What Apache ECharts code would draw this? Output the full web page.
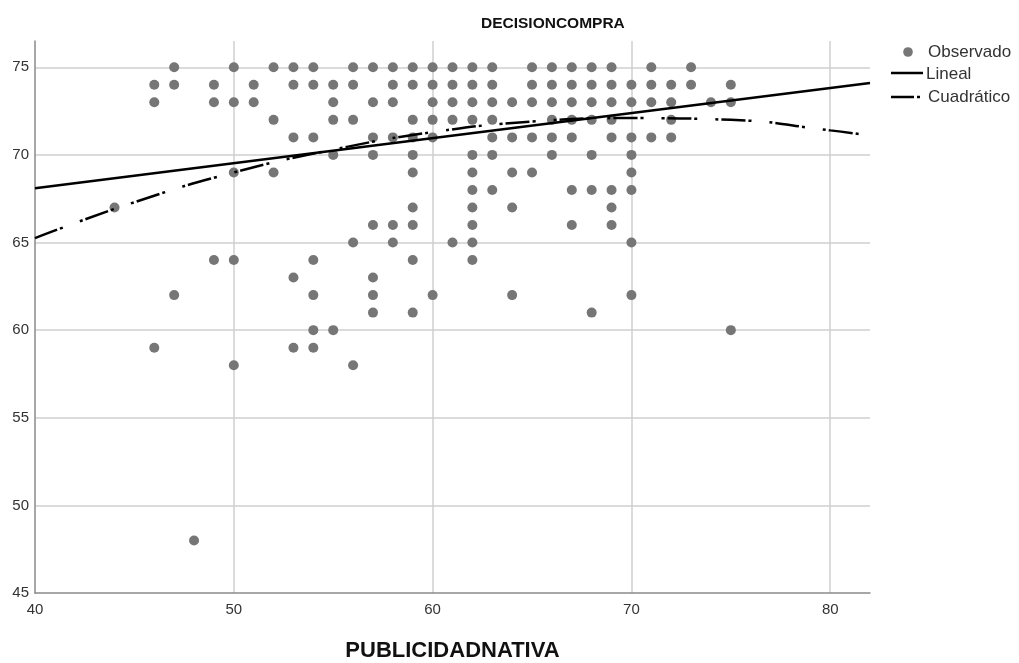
<!DOCTYPE html>
<html>
<head>
<meta charset="utf-8">
<script src="https://cdn.jsdelivr.net/npm/echarts@6/dist/echarts.min.js"></script>
<style>html,body{margin:0;padding:0;background:#fff;overflow:hidden}#c{width:1019px;height:663px}</style>
</head>
<body>
<div id="c"></div>
<script>
const obsX = [
 44,
 46,46,46,
 47,47,47,
 48,
 49,49,49,
 50,50,50,50,50,
 51,51,
 52,52,52,
 53,53,53,53,53,
 54,54,54,54,54,54,54,
 55,55,55,55,55,
 56,56,56,56,56,
 57,57,57,57,57,57,57,57,
 58,58,58,58,58,58,
 59,59,59,59,59,59,59,59,59,59,
 60,60,60,60,60,60,
 61,61,61,61,61,
 62,62,62,62,62,62,62,62,62,62,62,
 63,63,63,63,63,63,63,
 64,64,64,64,64,
 65,65,65,65,65,
 66,66,66,66,66,66,
 67,67,67,67,67,67,67,
 68,68,68,68,68,68,68,
 69,69,69,69,69,69,69,69,
 70,70,70,70,70,70,70,70,
 71,71,71,71,
 72,72,72,72,
 73,73,
 74,
 75,75,75
];
const obsY = [
 67,
 74,73,59,
 75,74,62,
 48,
 74,73,64,
 75,73,69,64,58,
 74,73,
 75,72,69,
 75,74,71,63,59,
 75,74,71,64,62,60,59,
 74,73,72,70,60,
 75,74,72,65,58,
 75,73,71,70,66,63,62,61,
 75,74,73,71,66,65,
 75,74,72,71,70,69,67,66,64,61,
 75,74,73,72,71,62,
 75,74,73,72,65,
 75,74,73,72,70,69,68,67,66,65,64,
 75,74,73,72,71,70,68,
 73,71,69,67,62,
 75,74,73,71,69,
 75,74,73,72,71,70,
 75,74,73,72,71,68,66,
 75,74,73,72,70,68,61,
 75,74,73,72,71,68,67,66,
 74,73,71,70,69,68,65,62,
 75,74,73,71,
 74,73,72,71,
 75,74,
 73,
 74,73,60
];
// Fitted curves, values
const linX = [40, 82];
const linY = [68.1, 74.1];
const quadX = [40, 45, 50, 55, 60, 65, 70, 75, 80, 82];
const quadY = [65.25, 67.3, 69.0, 70.3, 71.3, 71.9, 72.1, 72.0, 71.4, 71.1];
// Axis ticks
const xTicks = [40, 50, 60, 70, 80];
const yTicks = [45, 50, 55, 60, 65, 70, 75];
// Legend labels
const legendNames = ['Observado', 'Lineal', 'Cuadrático'];

const zip = (a, b) => a.map((v, i) => [v, b[i]]);
const FONT = "'Liberation Sans', Arial, sans-serif";
const DOT = '#767676';
const QUAD_DASH = [24, 3, 3, 18, 3, 3];

const chart = echarts.init(document.getElementById('c'), null, {renderer: 'canvas', width: 1019, height: 663});
chart.setOption({
  animation: false,
  backgroundColor: '#fff',
  title: {
    text: 'DECISIONCOMPRA',
    left: 476, top: 11,
    textStyle: {fontFamily: FONT, fontSize: 15.5, fontWeight: 'bold', color: '#111'}
  },
  grid: {left: 35, right: 149, top: 41, bottom: 70, containLabel: false, outerBoundsMode: 'none'},
  xAxis: {
    type: 'value', min: 40, max: 82, interval: 10,
    name: 'PUBLICIDADNATIVA', nameLocation: 'middle', nameGap: 47,
    nameTextStyle: {fontFamily: FONT, fontSize: 22, fontWeight: 'bold', color: '#111'},
    axisLine: {show: true, lineStyle: {color: '#8a8a8a', width: 1.5}},
    axisTick: {show: false},
    axisLabel: {
      fontFamily: FONT, fontSize: 15, color: '#333', margin: 9,
      showMaxLabel: false,
      formatter: v => xTicks.includes(v) ? String(v) : ''
    },
    splitLine: {show: true, showMinLine: false, showMaxLine: false, lineStyle: {color: '#cfcfcf', width: 1.5}}
  },
  yAxis: {
    type: 'value', min: 45, max: 76.5, interval: 5,
    axisLine: {show: true, lineStyle: {color: '#8a8a8a', width: 1.5}},
    axisTick: {show: false},
    axisLabel: {
      fontFamily: FONT, fontSize: 15, color: '#333', margin: 6,
      showMaxLabel: false,
      formatter: v => yTicks.includes(v) ? String(v) : ''
    },
    splitLine: {show: true, showMinLine: false, showMaxLine: false, lineStyle: {color: '#cfcfcf', width: 1.5}}
  },
  graphic: [
    {type: 'circle', shape: {cx: 908, cy: 52, r: 4.8}, style: {fill: DOT}},
    {type: 'text', left: 928, top: 44, style: {text: legendNames[0], font: '17px ' + FONT, fill: '#333'}},
    {type: 'line', shape: {x1: 891, y1: 73, x2: 923, y2: 73}, style: {stroke: '#000', lineWidth: 2.5}},
    {type: 'text', left: 926, top: 66, style: {text: legendNames[1], font: '17px ' + FONT, fill: '#333'}},
    {type: 'line', shape: {x1: 891, y1: 97, x2: 914, y2: 97}, style: {stroke: '#000', lineWidth: 2.5}},
    {type: 'line', shape: {x1: 917, y1: 97, x2: 920, y2: 97}, style: {stroke: '#000', lineWidth: 2.5}},
    {type: 'text', left: 928, top: 89, style: {text: legendNames[2], font: '17px ' + FONT, fill: '#333'}}
  ],
  series: [
    {
      name: 'Observado', type: 'scatter',
      data: zip(obsX, obsY),
      symbol: 'circle', symbolSize: 10,
      itemStyle: {color: DOT, opacity: 1},
      z: 2
    },
    {
      name: 'Lineal', type: 'line',
      data: zip(linX, linY),
      symbol: 'none', clip: true,
      lineStyle: {color: '#000', width: 2.5},
      z: 3
    },
    {
      name: 'Cuadrático', type: 'line',
      data: zip(quadX, quadY),
      symbol: 'none', smooth: true, clip: true,
      lineStyle: {color: '#000', width: 2.5, type: QUAD_DASH},
      z: 3
    }
  ]
});
</script>
</body>
</html>
